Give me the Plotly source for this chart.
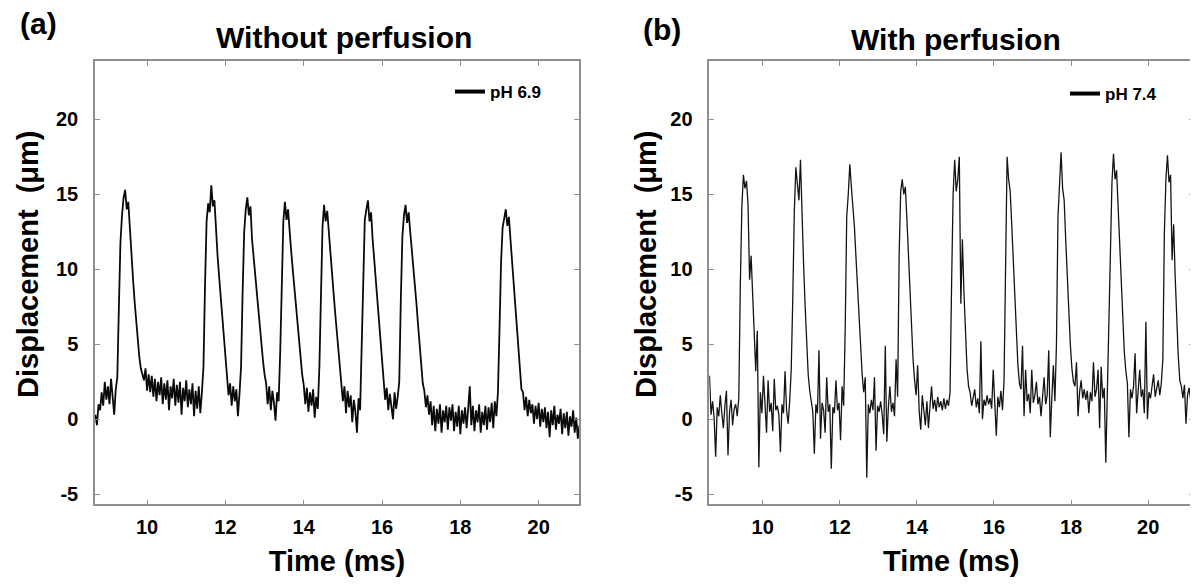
import plotly.graph_objects as go

# ---------------- data ----------------
sample_step_ms = 0.04          # sampling interval of both recordings (ms)
time_a_start = 8.68            # first sample of panel (a) (ms)
time_b_start = 8.62            # first sample of panel (b) (ms)

# Panel (a): without perfusion, pH 6.9 -- displacement (um)
disp_a = [
    0.3, -0.4, 1.0, 0.6, 1.8, 0.9, 2.5, 1.3, 2.2, 1.0, 2.7, 1.4, 0.3, 2.0,
    2.8, 7.5, 11.8, 13.6, 14.8, 15.3, 14.0, 14.5, 12.6, 11.0, 9.4, 7.9, 6.5, 5.2, 4.2, 3.4, 3.0,
    2.6, 3.4, 1.9, 3.0, 1.8, 2.9, 1.5, 2.7, 1.2, 2.5, 1.6, 2.8, 1.0, 2.4, 1.3, 2.6, 0.6, 2.2, 1.4,
    2.7, 0.9, 2.3, 1.1, 2.5, 0.3, 2.1, 1.2, 2.6, 0.8, 2.0, 1.0, 2.4, 0.2, 1.9, 0.7, 2.2, 0.4, 1.8,
    3.5, 9.0, 13.2, 14.4, 13.8, 15.6, 14.2, 14.6, 12.4, 10.9, 9.5, 8.1, 6.7, 5.3, 4.0, 3.0,
    1.6, 2.4, 0.9, 2.2, 1.2, 2.0, 0.2, 1.7,
    3.5, 8.5, 12.5, 14.0, 14.8, 13.6, 14.2, 12.0, 10.8, 9.6, 8.4, 7.2, 6.0, 4.9, 3.9, 3.0, 2.4,
    1.0, 2.2, 0.6, 1.9, 1.1, -0.1, 1.8, 1.2,
    4.5, 10.0, 13.2, 14.5, 13.3, 14.0, 12.4, 11.2, 10.0, 8.8, 7.6, 6.4, 5.2, 4.0, 3.0, 2.3,
    1.0, 2.1, 0.5, 1.8, 0.9, 2.0, 0.1, 1.5, 0.7,
    3.5, 9.0, 12.8, 14.3, 13.2, 13.9, 12.4, 11.1, 9.8, 8.5, 7.2, 5.9, 4.6, 3.4, 2.5,
    1.2, 2.2, 0.4, 1.9, 0.8, 1.6, -0.2, 1.3, 0.5, -0.9, 1.4, 0.6,
    5.0, 10.5, 13.3, 14.0, 14.6, 13.2, 13.8, 12.0, 10.7, 9.4, 8.1, 6.6, 5.1, 3.7, 2.6,
    1.3, 2.1, 0.6, 1.7, 0.9, 0.0, 1.8, 0.7, 1.5,
    2.5, 8.0, 12.2, 13.6, 14.3, 13.1, 13.8, 12.5, 11.4, 10.2, 9.0, 7.7, 6.3, 4.9, 3.5, 2.4,
    1.9, 0.8, 1.6, 0.3, 1.2, -0.4, 0.9, -0.8, 0.7, -0.3, 1.0, -0.9, 0.6, -0.2, 0.9, -0.7,
    0.8, -0.1, 1.0, -0.8, 0.5, -0.5, 0.9, -1.0, 0.6, -0.3, 0.8, -0.6, 0.7, 2.2, -0.4, 0.9,
    -0.8, 0.6, -0.2, 1.0, -0.9, 0.5, -0.4, 0.9, -0.7, 0.8, -0.2, 1.1, -0.6, 1.2, 0.2,
    1.8, 6.0, 10.5, 12.8, 13.4, 14.0, 12.9, 13.5, 12.0, 10.6, 9.2, 7.7, 6.1, 4.5, 3.1, 2.0,
    1.8, 0.6, 1.5, 0.2, 1.3, 0.4, 1.0, -0.3, 0.9, 0.0, 1.1, -0.5, 0.7, -0.2, 0.8, -0.6,
    0.5, -1.2, 0.6, -0.4, 0.9, -0.7, 0.3, -0.3, 0.7, -1.0, 0.4, -0.6, 0.5, -1.1, 0.2, -0.5,
    0.6, -0.9, 0.1, -1.3, -0.4,
]

# Panel (b): with perfusion, pH 7.4 -- displacement (um)
disp_b = [
    2.9, 0.3, 1.2, 0.1, -2.5, 0.8, 0.2, 1.6, 0.4, -0.6, 0.9, 1.9, -2.4, 0.5, 1.3, -0.4, 0.7, 1.0, 0.2, 1.4,
    9.0, 14.2, 16.3, 15.4, 15.9, 14.3, 9.3, 10.9, 8.3, 5.7, 3.2,
    5.9, -3.2, 1.8, 0.4, 2.9, 0.7, -0.9, 2.6, 0.5, 1.1, -0.8, 2.7, 0.6, 0.9, 0.3, -2.2, 1.0, 0.4, 3.2, 0.6, -0.3, 1.2, 3.3,
    8.0, 13.8, 16.8, 15.7, 14.6, 17.3, 13.2, 10.4, 7.6, 5.0, 3.0, 1.9,
    1.2, 0.5, -2.3, 1.0, 0.4, 4.6, -1.3, 1.1, 0.6, -0.9, 2.8, 0.5, 1.0, -3.3, 0.8, 0.4, 2.6, 0.6, 1.1, -1.4, 2.2, 0.9,
    6.0, 13.5, 15.0, 17.0, 15.5, 14.2, 12.8, 10.8, 8.6, 6.5, 4.6, 3.0, 1.8,
    2.8, -3.9, 1.0, 0.4, 1.3, 0.6, 2.8, -2.1, 0.9, 0.5, 1.2, 0.3, -1.0, 4.9, -1.5, 0.8, 2.2, 0.5, 1.1, 0.2, 4.0, 1.5,
    11.0, 15.2, 16.0, 15.0, 15.5, 13.4, 11.0, 8.4, 6.0, 4.0, 2.6, 1.6,
    3.6, 0.5, -0.7, 1.6, 0.6, -0.4, 1.2, -0.6, 0.9, 2.2, 0.7, 1.3, 0.5, 1.5, 0.8, 1.2, 0.6, 1.4, 0.7, 1.3, 0.9, 1.8,
    9.0, 15.0, 17.3, 15.2, 16.0, 17.5, 7.7, 12.0, 8.5, 5.5, 3.4, 2.2,
    1.8, 0.9, 1.5, 2.0, 0.8, 1.4, 0.4, 5.2, 0.0, 1.3, 0.9, 1.6, 1.0, 1.4, 0.7, 3.3, 1.1, -1.1, 1.5, 0.8, 1.9, 0.6, 2.5,
    12.0, 17.5, 16.0, 15.2, 13.0, 10.5, 8.0, 5.6, 3.6, 2.4,
    2.0, 4.9, 0.2, 3.3, 1.2, 1.7, 0.4, 3.3, 1.1, 1.6, 2.5, 1.0, 1.5, 0.2, 1.3, 2.8, 1.0, 1.6, 4.6, -1.2, 1.4, 3.6, 1.2,
    5.0, 13.5, 16.2, 17.8, 15.4, 14.6, 12.0, 9.5, 7.0, 5.0, 3.4, 2.5,
    2.2, 3.8, 0.2, 1.8, 2.6, 1.4, 2.0, 1.3, 1.9, 0.4, 1.8, 1.2, 3.8, 1.5, 2.0, 3.3, -0.6, 3.5, 1.4, 2.1, -2.9, 1.9,
    6.0, 13.0, 15.8, 17.7, 16.0, 16.6, 14.0, 11.4, 8.8, 6.4, 4.5, 3.2, 2.4,
    -1.2, 2.0, 1.4, 2.2, 4.4, 0.4, 1.9, 3.3, 1.5, 2.0, 0.4, 6.5, 0.0, 1.8, 1.4, 2.1, 3.0, 1.5, 2.0, 2.6, 1.6, 2.4,
    4.0, 12.5, 16.0, 17.6, 15.8, 16.3, 10.6, 13.0, 9.5, 6.6, 4.2, 2.6,
    2.2, 1.4, 2.3, -0.3, 1.6, 2.1, 1.3, 2.0, 1.7,
]

panel_titles = ["Without perfusion", "With perfusion"]
panel_letters = ["(a)", "(b)"]
series_names = ["pH 6.9", "pH 7.4"]
x_tick_values = [10, 12, 14, 16, 18, 20]
y_tick_values = [-5, 0, 5, 10, 15, 20]
y_tick_labels = ["-5", "0", "5", "10", "15", "20"]
x_title = "Time (ms)"
y_title = "Displacement  (\u03bcm)"

# uniformly sampled time bases
time_a = [round(time_a_start + i * sample_step_ms, 2) for i in range(len(disp_a))]
time_b = [round(time_b_start + i * sample_step_ms, 2) for i in range(len(disp_b))]

# ---------------- figure ----------------
FONT = "Liberation Sans, Arial, Helvetica, sans-serif"
AXIS_GREY = "#8f8f8f"
W, H = 1190, 577   # page body keeps an 8px margin


def px(x):
    return x / W


def py(y):
    return 1 - y / H


fig = go.Figure()

fig.add_trace(go.Scatter(x=time_a, y=disp_a, mode="lines",
                         line=dict(color="#0a0a0a", width=1.8),
                         showlegend=False, xaxis="x", yaxis="y"))
fig.add_trace(go.Scatter(x=time_b, y=disp_b, mode="lines",
                         line=dict(color="#141414", width=1.3),
                         showlegend=False, xaxis="x2", yaxis="y2"))
# legend keys (thick line samples, no data)
fig.add_trace(go.Scatter(x=[None], y=[None], mode="lines", name=series_names[0],
                         line=dict(color="black", width=4), legend="legend",
                         xaxis="x", yaxis="y"))
fig.add_trace(go.Scatter(x=[None], y=[None], mode="lines", name=series_names[1],
                         line=dict(color="black", width=4), legend="legend2",
                         xaxis="x2", yaxis="y2"))

tickfont = dict(family=FONT, size=20, color="black", weight="bold")
titlefont = dict(family=FONT, size=29, color="black", weight="bold")
headfont = dict(family=FONT, size=30, color="black", weight="bold")


def xaxis(domain, rng, anchor):
    return dict(domain=domain, range=rng, anchor=anchor,
                tickvals=x_tick_values, ticks="inside", ticklen=5,
                tickcolor=AXIS_GREY, tickwidth=1.2,
                showline=True, linecolor=AXIS_GREY, linewidth=1.5, mirror="ticks",
                showgrid=False, zeroline=False, tickfont=tickfont,
                ticklabelstandoff=4, automargin=False,
                title=dict(text=x_title, font=titlefont, standoff=14))


def yaxis(domain, rng, anchor):
    return dict(domain=domain, range=rng, anchor=anchor,
                tickvals=y_tick_values, ticktext=y_tick_labels,
                ticks="inside", ticklen=5,
                tickcolor=AXIS_GREY, tickwidth=1.2,
                showline=True, linecolor=AXIS_GREY, linewidth=1.5, mirror="ticks",
                showgrid=False, zeroline=False, tickfont=tickfont,
                ticklabelstandoff=11, automargin=False)


ydom = [py(496.3), py(53)]
fig.update_layout(
    width=W, height=H,
    margin=dict(l=0, r=0, t=0, b=0),
    paper_bgcolor="white", plot_bgcolor="white",
    font=dict(family=FONT, color="black"),
    xaxis=xaxis([px(87), px(571)], [8.67, 21.03], "y"),
    yaxis=yaxis(ydom, [-5.67, 23.89], "x"),
    xaxis2=xaxis([px(701.3), px(1185.3)], [8.615, 21.17], "y2"),
    yaxis2=yaxis(ydom, [-5.67, 23.89], "x2"),
    legend=dict(x=px(442), xanchor="left", y=py(84), yanchor="middle",
                bgcolor="rgba(0,0,0,0)", itemwidth=30,
                font=dict(family=FONT, size=17, color="black", weight="bold")),
    legend2=dict(x=px(1057), xanchor="left", y=py(86), yanchor="middle",
                 bgcolor="rgba(0,0,0,0)", itemwidth=30,
                 font=dict(family=FONT, size=17, color="black", weight="bold")),
    annotations=[
        dict(text=panel_titles[0], x=px(336), y=py(29), xref="paper", yref="paper",
             xanchor="center", yanchor="middle", showarrow=False, font=headfont),
        dict(text=panel_titles[1], x=px(948), y=py(32), xref="paper", yref="paper",
             xanchor="center", yanchor="middle", showarrow=False, font=headfont),
        dict(text=panel_letters[0], x=px(30), y=py(16), xref="paper", yref="paper",
             xanchor="center", yanchor="middle", showarrow=False, font=headfont),
        dict(text=panel_letters[1], x=px(654), y=py(21), xref="paper", yref="paper",
             xanchor="center", yanchor="middle", showarrow=False, font=headfont),
        dict(text=y_title, x=px(20), y=py(256), xref="paper", yref="paper",
             xanchor="center", yanchor="middle", textangle=-90, showarrow=False,
             font=titlefont),
        dict(text=y_title, x=px(638), y=py(256), xref="paper", yref="paper",
             xanchor="center", yanchor="middle", textangle=-90, showarrow=False,
             font=titlefont),
    ],
)

fig.write_html("out.html")
